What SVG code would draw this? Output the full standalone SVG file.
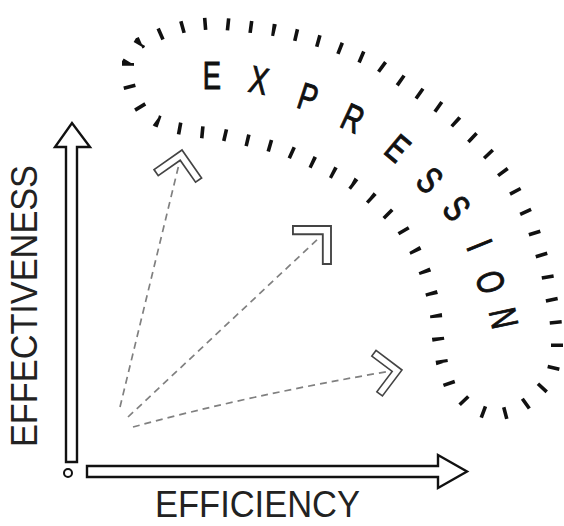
<svg xmlns="http://www.w3.org/2000/svg" width="564" height="526" viewBox="0 0 564 526">
<defs>
<style>
.axis{fill:#fff;stroke:#111;stroke-width:2.4;stroke-linejoin:miter}
.lbl{font-family:"Liberation Sans",Arial,sans-serif;font-size:37px;fill:#222}
.blob{fill:none;stroke:#111;stroke-width:12;stroke-dasharray:3.6 19.4;stroke-dashoffset:2}
.let{font-family:"Liberation Sans",Arial,sans-serif;font-size:38px;fill:#111;stroke:#111;stroke-width:1;text-anchor:middle}
.dash{fill:none;stroke:#808080;stroke-width:1.7;stroke-dasharray:7 5}
.chev{fill:#fff;stroke:#444;stroke-width:1.6;stroke-linejoin:miter}
</style>
<path id="chev" d="M0,0 L-23,-23 L-27.95,-18.05 L-9.9,0 L-27.95,18.05 L-23,23 Z"/>
</defs>
<rect width="564" height="526" fill="#fff"/>

<g id="expression-region">
<polygon class="blob" points="128,63 140,43 165,32 190,25 215,23 244,26 274,30 300,36 329,44 352,53 378,64 400,80 420,94 440,108 457,123 475,140 494,160 511,183 523,206 533,228 540,250 547,273 551,296 555,315 557,335 557,353 553,370 544,386 531,400 517,410 494,416 470,407 450,386 442,363 438,338 436,315 432,295 425,272 415,250 402,228 386,212 370,197 352,183 332,172 312,162 288,151 267,145 246,140 220,134 199,132 177,128 157,121 142,110 131,92 128,81"/>
<g id="label-expression">
<text class="let" transform="translate(212,75) rotate(0) scale(0.72,1)" y="13.5">E</text>
<text class="let" transform="translate(259,80) rotate(12) scale(0.72,1)" y="13.5">X</text>
<text class="let" transform="translate(308,97) rotate(18) scale(0.72,1)" y="13.5">P</text>
<text class="let" transform="translate(353,118) rotate(25) scale(0.72,1)" y="13.5">R</text>
<text class="let" transform="translate(398,148) rotate(40) scale(0.72,1)" y="13.5">E</text>
<text class="let" transform="translate(430,180) rotate(45) scale(0.72,1)" y="13.5">S</text>
<text class="let" transform="translate(457,208) rotate(50) scale(0.72,1)" y="13.5">S</text>
<text class="let" transform="translate(480,245) rotate(68) scale(0.72,1)" y="13.5">I</text>
<text class="let" transform="translate(491,282) rotate(72) scale(0.72,1)" y="13.5">O</text>
<text class="let" transform="translate(504,318) rotate(78) scale(0.72,1)" y="13.5">N</text>
</g>
</g>

<g id="connectors">
<path class="dash" d="M120,407 L180,160"/>
<path class="dash" d="M128,417 L320,237"/>
<path class="dash" d="M133,427 Q250,395 391,371"/>
</g>

<g id="arrowhead-1"><use href="#chev" class="chev" transform="translate(182,150) rotate(-80) scale(1.05)"/></g>
<g id="arrowhead-2"><use href="#chev" class="chev" transform="translate(331,226) rotate(-45) scale(1.17)"/></g>
<g id="arrowhead-3"><use href="#chev" class="chev" transform="translate(402,370) rotate(-8) scale(1)"/></g>

<g id="axis-effectiveness">
<path class="axis" d="M66,462 L66,147 L55,147 L72,123 L90,147 L77,147 L77,462 Z"/>
<text class="lbl" transform="translate(37,447) rotate(-90)" textLength="282" lengthAdjust="spacingAndGlyphs">EFFECTIVENESS</text>
</g>
<g id="axis-efficiency">
<path class="axis" d="M87,466 L438,466 L438,455 L467,471.5 L438,488 L438,477 L87,477 Z"/>
<text class="lbl" x="155" y="517" font-size="36" textLength="205" lengthAdjust="spacingAndGlyphs" style="font-size:36px">EFFICIENCY</text>
</g>
<g id="origin">
<circle cx="68" cy="473" r="4" fill="#fff" stroke="#111" stroke-width="2"/>
</g>
</svg>
